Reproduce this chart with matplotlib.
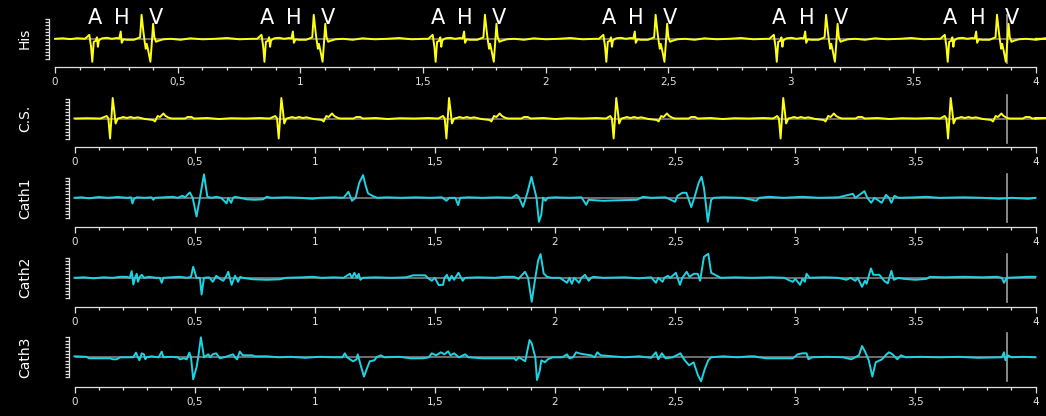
import numpy as np
import matplotlib
matplotlib.use('Agg')
import matplotlib.pyplot as plt
from matplotlib.ticker import MultipleLocator, FuncFormatter

# DATA (time in s, amplitude in screen units)
beat_times = [0.152, 0.854, 1.552, 2.248, 2.943, 3.640]

# His bundle beat: (offset from A spike, amplitude)
his_beat = [(-0.152, 0.0), (-0.120, 0.5), (-0.090, -0.3), (-0.060, 0.6), (-0.030, 0.0),
            (-0.012, 4.0), (-0.005, -8.0), (0.000, -23.0), (0.006, -3.0), (0.014, -2.0),
            (0.019, 1.5), (0.023, -8.0), (0.027, -1.5), (0.040, 0.5), (0.060, 1.0),
            (0.080, 0.0), (0.100, 0.8), (0.110, 0.3), (0.116, 7.3), (0.120, -4.0),
            (0.127, -0.5), (0.140, -1.0), (0.170, -1.0), (0.195, 1.5), (0.201, 24.0),
            (0.208, 8.0), (0.212, 0.0), (0.218, -10.0), (0.222, -5.0), (0.228, -11.7),
            (0.237, -23.0), (0.242, -6.7), (0.248, 15.0), (0.253, 1.7), (0.260, -3.0),
            (0.269, -2.0), (0.290, -0.5), (0.320, 0.0), (0.360, -1.0), (0.400, 0.5),
            (0.450, -0.5), (0.500, 0.0), (0.550, 0.8), (0.600, -0.5), (0.650, 0.0)]

# Coronary sinus beat: (offset from A spike, amplitude)
cs_beat = [(-0.152, 0.0), (-0.100, 0.3), (-0.044, 0.0), (-0.018, 2.5), (-0.011, 0.0),
           (-0.004, -20.0), (0.000, -6.0), (0.007, 20.5), (0.014, 6.5), (0.019, -5.0),
           (0.028, 0.0), (0.041, 0.7), (0.051, 1.5), (0.066, 0.5), (0.081, 1.5),
           (0.096, 0.5), (0.111, 1.2), (0.141, -0.5), (0.176, -1.5), (0.183, -3.0),
           (0.194, 2.5), (0.204, 1.5), (0.218, 5.0), (0.227, 2.5), (0.241, 0.7),
           (0.252, 0.0), (0.308, 0.0), (0.319, 1.5), (0.335, 1.5), (0.346, 0.0),
           (0.400, 0.5), (0.450, -0.5), (0.500, 0.3), (0.560, 0.0), (0.620, 0.5), (0.660, 0.0)]

cath1 = [(0.00, 0), (0.03, 0.5), (0.06, -0.5), (0.10, 0.8), (0.14, 0), (0.18, 0.8), (0.22, 0),
         (0.235, 0.5), (0.241, -5.6), (0.248, -1), (0.26, 0.5), (0.29, 0), (0.32, 0.5), (0.328, -2),
         (0.335, 0), (0.37, 0.5), (0.41, 1), (0.43, 0), (0.449, 2), (0.46, 0.5), (0.48, 5.4),
         (0.492, 0), (0.508, -18.7), (0.522, 0), (0.539, 23.4), (0.553, 1), (0.57, 0), (0.59, 1),
         (0.61, 0), (0.633, -5.6), (0.64, 0), (0.652, -5), (0.66, 0), (0.668, 1), (0.69, 0),
         (0.716, -1.5), (0.75, -2), (0.785, -1.5), (0.80, 1), (0.82, 0), (0.88, 0.5), (0.94, 0),
         (0.99, -1), (1.02, 0), (1.08, 0.5), (1.12, 0), (1.14, 6), (1.155, -3), (1.17, 0),
         (1.185, 15), (1.201, 22.7), (1.212, 12), (1.222, 4.4), (1.24, 2), (1.26, 0), (1.30, 0.5),
         (1.36, 0), (1.42, 0.5), (1.48, 0), (1.53, 0.5), (1.548, -3), (1.56, 0), (1.585, 0),
         (1.597, -7.3), (1.605, 0), (1.64, 0.5), (1.70, 0), (1.76, 0.5), (1.82, 0), (1.84, 3),
         (1.85, 0.5), (1.867, -9), (1.885, 5), (1.902, 21), (1.915, 8), (1.923, 0), (1.933, -24),
         (1.943, -17), (1.95, 0), (1.96, -3), (1.97, 0), (2.00, 0.5), (2.06, 0), (2.11, 0.5),
         (2.13, -7), (2.14, -2), (2.20, -3), (2.26, -2.5), (2.34, -2), (2.366, 1), (2.40, 0),
         (2.46, 0.5), (2.50, -4), (2.51, 2), (2.53, 5), (2.547, 5), (2.567, -9.3), (2.58, 0),
         (2.598, 15), (2.61, 21), (2.62, 10), (2.625, 0), (2.636, -24), (2.65, -2), (2.66, 0),
         (2.70, 0.5), (2.78, 0), (2.838, -3), (2.85, 0), (2.893, 1), (2.95, 0), (3.03, 1),
         (3.10, 0), (3.18, 0.5), (3.24, 4), (3.25, 0), (3.288, 6.6), (3.30, 0), (3.316, -5),
         (3.33, 0), (3.36, -5), (3.378, 3), (3.39, 0), (3.40, -5), (3.413, 2), (3.43, 0),
         (3.50, 0.5), (3.545, 1), (3.60, 0), (3.70, 0.5), (3.78, 0), (3.85, -1), (3.90, 0),
         (3.97, -1), (4.00, 0)]

cath2 = [(0.0, 0), (0.04, 0.5), (0.08, -0.5), (0.12, 0.5), (0.16, 0), (0.19, 1), (0.218, 1),
         (0.23, 0), (0.238, 6.7), (0.245, -6.7), (0.252, 0), (0.259, 4), (0.264, -4), (0.272, 1),
         (0.28, 3), (0.29, 0), (0.31, 1), (0.34, 0), (0.355, 0), (0.363, -5), (0.37, 0),
         (0.40, 0.5), (0.44, 1), (0.47, 0), (0.485, 1), (0.494, 11), (0.508, 0), (0.522, 0),
         (0.529, -16.7), (0.539, 0), (0.56, 0.5), (0.576, -4), (0.585, 0), (0.59, 2), (0.605, -1),
         (0.619, -3), (0.628, 0), (0.64, 6), (0.654, -7), (0.668, 2), (0.681, -4), (0.69, 1),
         (0.70, 0), (0.743, -1.5), (0.80, -2), (0.855, -1.5), (0.88, 0), (0.95, 0.5), (0.992, 1),
         (1.03, 0), (1.08, 0.5), (1.12, 0), (1.146, 4), (1.155, 0), (1.165, 5), (1.175, 0),
         (1.183, 4), (1.19, -2), (1.20, 0), (1.25, 0.5), (1.32, 0), (1.38, 0.5), (1.41, 2.5),
         (1.46, 2.5), (1.47, 0), (1.487, -3), (1.50, 0), (1.516, -7.3), (1.534, -7), (1.54, 0),
         (1.55, 3), (1.56, -3), (1.57, 2), (1.58, -2), (1.598, 5), (1.616, -3), (1.625, 0),
         (1.68, 0.5), (1.75, 0), (1.79, 1), (1.83, 1), (1.848, -1), (1.875, 6), (1.888, 0),
         (1.903, -24), (1.918, 0), (1.93, 17.7), (1.94, 23.7), (1.953, 4.3), (1.967, 1),
         (1.986, 0), (2.02, 0), (2.05, -5), (2.06, 0), (2.07, -6), (2.08, 0), (2.10, -5),
         (2.11, 0), (2.125, 3), (2.14, -3), (2.15, 0), (2.16, 1), (2.20, 0), (2.29, 0.5),
         (2.35, -0.5), (2.40, 0.5), (2.42, -5), (2.43, 0), (2.448, -4), (2.455, 0), (2.47, 2),
         (2.48, 0), (2.503, 5), (2.52, -7), (2.53, 0), (2.548, 6), (2.56, 1), (2.578, 4),
         (2.594, 4), (2.604, -3), (2.62, 21), (2.638, 24), (2.65, 5), (2.668, 2.7), (2.69, 0),
         (2.75, 0.5), (2.82, 0), (2.90, 0.5), (2.955, 0), (2.97, -2), (2.99, -4), (3.00, -1),
         (3.02, -7), (3.03, -1), (3.04, -4), (3.047, 4), (3.06, 0), (3.12, 0.5), (3.18, 0),
         (3.213, -2), (3.23, 0), (3.25, -3), (3.26, 0), (3.278, -9), (3.29, -3), (3.297, -6),
         (3.315, 9.4), (3.325, 3), (3.334, 3), (3.35, 3), (3.37, -3), (3.385, -5.6), (3.40, 7),
         (3.41, -2), (3.43, 0), (3.45, -1), (3.50, -2), (3.547, -1), (3.56, 1), (3.62, 0.5),
         (3.70, 1), (3.78, 0.5), (3.84, 1), (3.86, 0), (3.869, -5), (3.88, 0), (3.93, 0.5),
         (3.97, 1), (4.00, 1)]

cath3 = [(0.0, 1), (0.05, 0.5), (0.06, -1), (0.10, -1), (0.148, -1), (0.16, -2), (0.175, -2),
         (0.19, 0), (0.244, 0), (0.256, 4.7), (0.264, 0), (0.27, -3), (0.28, 4), (0.289, 3),
         (0.295, -2), (0.30, 0), (0.32, 1), (0.35, 0), (0.363, 5.7), (0.37, 0), (0.40, 0.5),
         (0.43, 0), (0.439, -2), (0.455, -1), (0.467, -2), (0.478, 4.7), (0.485, 0), (0.494, -22),
         (0.508, -10), (0.515, 0), (0.526, 20), (0.539, 0), (0.557, 3), (0.565, 0), (0.575, 3),
         (0.59, 4), (0.605, -1), (0.63, 0.5), (0.66, 3), (0.668, 0), (0.677, -2), (0.688, 5.7),
         (0.70, 2), (0.74, 2), (0.75, 1), (0.80, 1), (0.85, 0), (0.90, 0.5), (0.96, -0.5),
         (1.02, 0.5), (1.08, 0), (1.115, 0), (1.125, 4), (1.135, 0), (1.146, -2), (1.16, -4),
         (1.174, -2), (1.179, 3), (1.192, -8.7), (1.205, -19.3), (1.216, -12), (1.229, -4),
         (1.248, -3), (1.257, 0), (1.275, 2), (1.29, 0), (1.35, 0.5), (1.40, -1), (1.45, -1),
         (1.475, 0), (1.487, 4), (1.505, 2), (1.525, 5), (1.54, 3), (1.555, 6), (1.565, 2),
         (1.58, 4), (1.60, 0), (1.626, 3), (1.64, 0), (1.70, -1), (1.83, -1), (1.838, -3),
         (1.85, 0), (1.876, -4), (1.894, 17.3), (1.903, 14), (1.918, 0), (1.925, -22.7),
         (1.936, -14), (1.943, -3), (1.958, -5), (1.97, -2), (1.99, 0), (2.03, 0), (2.05, 3),
         (2.06, -1), (2.075, 0), (2.088, 5), (2.10, 4), (2.12, 3), (2.15, 2), (2.165, 0),
         (2.176, 5), (2.19, 2), (2.24, 1), (2.29, 0), (2.35, 1), (2.40, -0.5), (2.42, 5),
         (2.43, -2), (2.445, 4), (2.46, -1), (2.49, 0), (2.522, 4), (2.54, -3), (2.558, -8),
         (2.577, -5), (2.595, -18), (2.608, -24), (2.623, -12), (2.638, -3), (2.65, 0),
         (2.70, 1), (2.76, 0), (2.81, 1), (2.83, 1), (2.85, 0), (2.88, -1), (2.99, -1), (3.01, 3),
         (3.03, 4), (3.047, 4), (3.055, -2), (3.07, 0), (3.13, 0.5), (3.20, 0), (3.233, -2),
         (3.25, 0), (3.265, 2), (3.278, 11.3), (3.29, 6), (3.306, -3), (3.321, -19.3),
         (3.335, -5), (3.361, -2), (3.38, 3), (3.39, 5), (3.405, 3), (3.425, -2), (3.44, 2),
         (3.46, 0), (3.52, 0.5), (3.60, 0), (3.68, 0.5), (3.76, -0.5), (3.86, 0), (3.869, 5),
         (3.875, -3), (3.885, 2), (3.90, 0), (3.95, 0.5), (4.00, 0)]

channel_names = ['His', 'C.S.', 'Cath1', 'Cath2', 'Cath3']
marker_labels = ['A', 'H', 'V']
marker_offsets = [0.010, 0.121, 0.260]
cursor_time = 3.88

W, H = 1046, 416
# panel geometry in pixels: x of t=0, x of t=4, baseline y, axis line y
panels = [(55.0, 1036.0, 38.8, 66.7),
          (74.5, 1035.5, 118.5, 146.7),
          (74.5, 1035.5, 197.8, 226.7),
          (74.5, 1035.5, 277.8, 306.7),
          (74.5, 1035.5, 357.3, 386.7)]

YELLOW = '#ffff14'
CYAN = '#1cd4e4'
GREY = '#8c8c8c'
AXC = '#e0e0e0'


def beat_trace(beat, times):
    t = []
    v = []
    for bt in times:
        for dt, a in beat:
            if bt + dt >= (t[-1] if t else -1):
                t.append(bt + dt)
                v.append(a)
    t.append(4.0)
    v.append(0.0)
    return np.array(t), np.array(v)


his_t, his_v = beat_trace(his_beat, beat_times)
cs_t, cs_v = beat_trace(cs_beat, beat_times)
traces = [(his_t, his_v, YELLOW), (cs_t, cs_v, YELLOW)]
for data in (cath1, cath2, cath3):
    arr = np.array(data, dtype=float)
    traces.append((arr[:, 0], arr[:, 1], CYAN))

fig = plt.figure(figsize=(W / 100, H / 100), dpi=100, facecolor='black')

for i, (x0, x4, base, axy) in enumerate(panels):
    top = base - 32
    ax = fig.add_axes([x0 / W, 1 - axy / H, (x4 - x0) / W, (axy - top) / H])
    ax.set_facecolor('black')
    ax.set_xlim(0, 4)
    ax.set_ylim(-(axy - base), base - top)

    t, v, col = traces[i]
    ax.axhline(0, color=GREY, lw=1.1, zorder=1)
    ax.plot([cursor_time, cursor_time], [-24, 24], color='#a0a0a0', lw=1.2, zorder=1)
    ax.plot(t, v, color=col, lw=1.4, zorder=2, clip_on=False)

    for s in ('top', 'right'):
        ax.spines[s].set_visible(False)
    ax.spines['bottom'].set_color(AXC)
    ax.spines['left'].set_color(AXC)
    ax.spines['bottom'].set_linewidth(0.9)
    ax.spines['left'].set_linewidth(0.9)
    ax.spines['left'].set_position(('outward', 4.3))
    ax.spines['left'].set_bounds(-20, 20)

    ax.xaxis.set_major_locator(MultipleLocator(0.5))
    ax.xaxis.set_minor_locator(MultipleLocator(0.1))
    ax.xaxis.set_major_formatter(FuncFormatter(lambda x, p: ('%g' % x).replace('.', ',')))
    ax.set_yticks(np.linspace(-20, 20, 13))
    ax.set_yticklabels([])
    ax.tick_params(axis='x', which='major', length=4.3, width=0.9, color=AXC,
                   labelcolor=AXC, labelsize=7.5, pad=3)
    ax.tick_params(axis='x', which='minor', length=2.2, width=0.9, color=AXC)
    ax.tick_params(axis='y', which='major', length=3.0, width=0.9, color=AXC)

    fig.text(25 / W, 1 - base / H, channel_names[i], rotation=90, color='white',
             fontsize=10, ha='center', va='center')

    if i == 0:
        for bt in beat_times:
            for lab, off in zip(marker_labels, marker_offsets):
                ax.text(bt + off, 21, lab, color='white', fontsize=15,
                        ha='center', va='center')

fig.savefig('out.png', dpi=100, facecolor='black')
